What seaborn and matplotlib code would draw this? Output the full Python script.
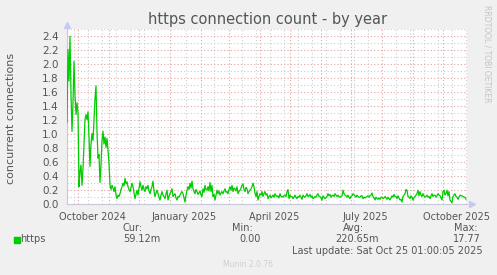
import numpy as np
import pandas as pd
import matplotlib
matplotlib.use("Agg")
import matplotlib.pyplot as plt
import matplotlib.dates as mdates
import seaborn as sns
from matplotlib.transforms import blended_transform_factory

# ---------------- data ----------------
start = pd.Timestamp("2024-09-20 01:00")
end = pd.Timestamp("2025-10-25 01:00")

https_values = [
    1.15, 2.20, 1.75, 2.39, 1.55, 1.03, 1.45, 2.03, 1.55, 1.27,
    1.44, 1.30, 0.24, 0.45, 0.55, 0.26, 0.50, 0.85, 1.20, 1.27,
    1.20, 1.31, 0.95, 0.53, 0.85, 1.00, 0.90, 1.20, 1.50, 1.68,
    1.03, 0.65, 0.70, 0.30, 0.55, 0.90, 1.03, 0.85, 0.95, 0.80,
    0.93, 0.75, 0.58, 0.26, 0.20, 0.26, 0.22, 0.17, 0.24, 0.12,
    0.07, 0.12, 0.10, 0.14, 0.20, 0.24, 0.29, 0.25, 0.36, 0.28,
    0.31, 0.24, 0.20, 0.17, 0.22, 0.29, 0.24, 0.15, 0.07, 0.13,
    0.19, 0.12, 0.22, 0.31, 0.24, 0.19, 0.26, 0.20, 0.17, 0.24,
    0.21, 0.26, 0.18, 0.14, 0.20, 0.24, 0.32, 0.18, 0.10, 0.15,
    0.19, 0.14, 0.09, 0.05, 0.12, 0.17, 0.12, 0.10, 0.07, 0.14,
    0.19, 0.05, 0.10, 0.14, 0.17, 0.21, 0.10, 0.12, 0.14, 0.08,
    0.05, 0.10, 0.09, 0.12, 0.15, 0.17, 0.14, 0.08, 0.02, 0.12,
    0.19, 0.24, 0.20, 0.29, 0.22, 0.32, 0.21, 0.17, 0.14, 0.20,
    0.17, 0.13, 0.15, 0.18, 0.12, 0.10, 0.21, 0.16, 0.26, 0.20,
    0.19, 0.24, 0.18, 0.30, 0.17, 0.26, 0.10, 0.13, 0.05, 0.12,
    0.19, 0.14, 0.18, 0.12, 0.15, 0.17, 0.14, 0.18, 0.21, 0.16,
    0.17, 0.14, 0.20, 0.24, 0.19, 0.26, 0.17, 0.22, 0.21, 0.18,
    0.24, 0.14, 0.17, 0.19, 0.22, 0.26, 0.28, 0.20, 0.17, 0.23,
    0.21, 0.14, 0.17, 0.19, 0.21, 0.24, 0.29, 0.24, 0.15, 0.10,
    0.17, 0.05, 0.10, 0.14, 0.12, 0.17, 0.10, 0.14, 0.17, 0.12,
    0.14, 0.07, 0.10, 0.12, 0.08, 0.10, 0.12, 0.09, 0.14, 0.11,
    0.10, 0.11, 0.08, 0.14, 0.10, 0.10, 0.09, 0.11, 0.12, 0.10,
    0.17, 0.20, 0.07, 0.12, 0.10, 0.10, 0.07, 0.09, 0.12, 0.09,
    0.07, 0.10, 0.09, 0.12, 0.09, 0.06, 0.12, 0.10, 0.09, 0.11,
    0.14, 0.10, 0.11, 0.13, 0.09, 0.11, 0.07, 0.08, 0.10, 0.09,
    0.12, 0.14, 0.10, 0.10, 0.08, 0.05, 0.11, 0.09, 0.07, 0.08,
    0.10, 0.14, 0.11, 0.13, 0.09, 0.11, 0.12, 0.10, 0.14, 0.12,
    0.10, 0.12, 0.10, 0.09, 0.10, 0.11, 0.19, 0.14, 0.12, 0.11,
    0.09, 0.12, 0.09, 0.07, 0.10, 0.11, 0.14, 0.12, 0.11, 0.09,
    0.12, 0.10, 0.09, 0.09, 0.11, 0.11, 0.07, 0.09, 0.08, 0.09,
    0.10, 0.11, 0.09, 0.11, 0.12, 0.15, 0.10, 0.08, 0.05, 0.09,
    0.07, 0.06, 0.08, 0.06, 0.09, 0.09, 0.07, 0.08, 0.10, 0.08,
    0.06, 0.09, 0.07, 0.05, 0.08, 0.11, 0.09, 0.13, 0.10, 0.10,
    0.07, 0.11, 0.08, 0.05, 0.06, 0.02, 0.10, 0.12, 0.14, 0.20,
    0.19, 0.10, 0.09, 0.07, 0.11, 0.09, 0.05, 0.08, 0.10, 0.12,
    0.14, 0.19, 0.11, 0.17, 0.12, 0.10, 0.14, 0.11, 0.09, 0.10,
    0.12, 0.09, 0.10, 0.07, 0.11, 0.14, 0.10, 0.12, 0.12, 0.09,
    0.11, 0.14, 0.12, 0.11, 0.08, 0.05, 0.17, 0.19, 0.12, 0.14,
    0.19, 0.11, 0.17, 0.05, 0.03, 0.01, 0.10, 0.12, 0.14, 0.10,
    0.09, 0.06, 0.09, 0.12, 0.11, 0.11, 0.10, 0.09, 0.09, 0.06,
]
dates = pd.date_range(start, periods=len(https_values), freq="D")

month_starts = pd.date_range("2024-10-01", "2025-10-01", freq="MS")
minor_dates = pd.date_range("2024-09-27", "2025-10-24", freq="14D")
label_dates = pd.to_datetime(["2024-10-15", "2025-01-15", "2025-04-15",
                              "2025-07-15", "2025-10-15"])
label_texts = ["October 2024", "January 2025", "April 2025",
               "July 2025", "October 2025"]
y_major = [0.0, 0.2, 0.4, 0.6, 0.8, 1.0, 1.2, 1.4, 1.6, 1.8, 2.0, 2.2, 2.4]
y_minor = [0.1, 0.3, 0.5, 0.7, 0.9, 1.1, 1.3, 1.5, 1.7, 1.9, 2.1, 2.3, 2.5]

series_name = "https"
stat_headers = ["Cur:", "Min:", "Avg:", "Max:"]
stat_values = ["59.12m", "0.00", "220.65m", "17.77"]
title = "https connection count - by year"
ylabel = "concurrent connections"
last_update = "Last update: Sat Oct 25 01:00:05 2025"

df = pd.DataFrame({"date": dates, "value": https_values})

# ---------------- style ----------------
W, H = 497, 275
BG = "#f0f0f0"
GREEN = "#00cc00"
TXT = "#555555"
RED_GRID = "#e6a3a3"
GRAY_GRID = "#cfcfcf"
AXIS = "#c8c8dc"

sns.set_style("white")
plt.rcParams["font.family"] = ["DejaVu Sans"]

fig = plt.figure(figsize=(W / 100, H / 100), dpi=100, facecolor=BG)
ax = fig.add_axes([67 / W, (H - 203.5) / H, 400 / W, 175 / H])
ax.set_facecolor("white")

# grid lines
for d in minor_dates:
    if min(abs((d - m).days) for m in month_starts) > 2:
        ax.axvline(d, color=GRAY_GRID, lw=0.8, ls=(0, (1, 2)), zorder=1)
for y in y_minor:
    ax.axhline(y, color=GRAY_GRID, lw=0.8, ls=(0, (1, 2)), zorder=1)
for m in month_starts:
    ax.axvline(m, color=RED_GRID, lw=0.8, ls=(0, (1, 2)), zorder=2)
for y in y_major[1:]:
    ax.axhline(y, color=RED_GRID, lw=0.8, ls=(0, (1, 2)), zorder=2)

sns.lineplot(data=df, x="date", y="value", ax=ax, color=GREEN,
             linewidth=0.9, zorder=3, legend=False)

ax.set_xlim(start, end)
ax.set_ylim(0, 2.5)
ax.set_xlabel("")
ax.set_ylabel("")

ax.set_yticks(y_major)
ax.set_yticklabels([f"{v:.1f}" for v in y_major])
ax.set_xticks(list(month_starts))
ax.set_xticklabels([])
ax.tick_params(axis="y", length=2, width=0.6, color=GRAY_GRID,
               labelsize=7.5, labelcolor=TXT, pad=4)
ax.tick_params(axis="x", length=2, width=0.8, color=RED_GRID, pad=2)

for s in ["top", "right"]:
    ax.spines[s].set_visible(False)
for s in ["left", "bottom"]:
    ax.spines[s].set_color(AXIS)
    ax.spines[s].set_linewidth(0.8)

# axis arrows
ax.plot([0], [1.02], marker="^", ms=4, color="#c8c8f8", transform=ax.transAxes,
        clip_on=False)
ax.plot([1.012], [0], marker=">", ms=4, color="#c8c8f8", transform=ax.transAxes,
        clip_on=False)

# x labels at mid-month
tr = blended_transform_factory(ax.transData, ax.transAxes)
for d, t in zip(label_dates, label_texts):
    ax.text(mdates.date2num(d), -0.048, t, transform=tr, ha="center", va="top",
            fontsize=7, color=TXT)

# texts
fig.text(268 / W, 1 - 24 / H, title, ha="center", va="baseline",
         fontsize=10.5, color=TXT)
fig.text(11 / W, 1 - 118 / H, ylabel, ha="center", va="center",
         rotation=90, fontsize=8, color=TXT)
fig.text(487 / W, 1 - 5 / H, "RRDTOOL / TOBI OETIKER", ha="center", va="top",
         rotation=270, fontsize=5.5, color="#c4c4c4")

# legend row
fig.patches.append(plt.Rectangle((14 / W, 1 - 242.5 / H), 5.5 / W, 6 / H,
                                 transform=fig.transFigure, color=GREEN))
fig.text(20 / W, 1 - 239.5 / H, series_name, ha="left", va="center",
         fontsize=7, color=TXT)
header_x = [132.7, 242, 353.8, 465.3]
value_x = [142, 250, 356.7, 466.7]
for hx, vx, h, v in zip(header_x, value_x, stat_headers, stat_values):
    fig.text(hx / W, 1 - 228 / H, h, ha="center", va="center", fontsize=7, color=TXT)
    fig.text(vx / W, 1 - 239.5 / H, v, ha="center", va="center", fontsize=7, color=TXT)
fig.text(482.5 / W, 1 - 251 / H, last_update, ha="right", va="center",
         fontsize=7, color=TXT)
fig.text(248 / W, 1 - 264.5 / H, "Munin 2.0.76", ha="center", va="center",
         fontsize=5.5, color="#cfcfcf")

fig.savefig("out.png", dpi=100, facecolor=BG)
